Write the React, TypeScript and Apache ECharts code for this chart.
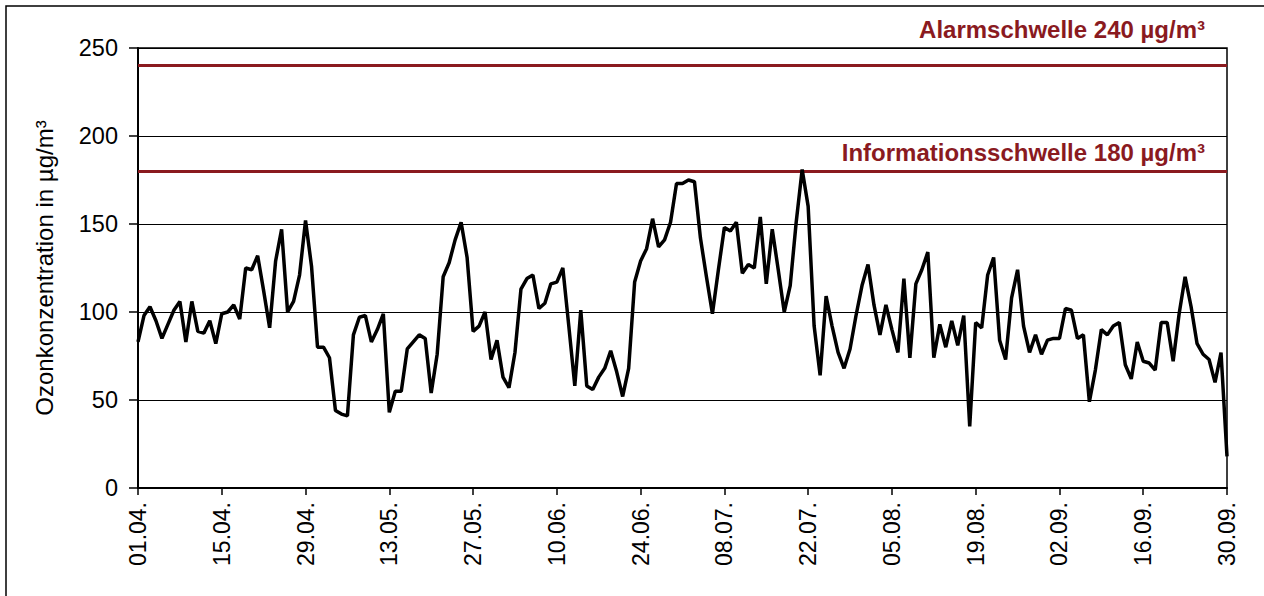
import React, { useEffect, useRef } from "react";
import * as echarts from "echarts";

// Daily 8h-max ozone values, 01.04. - 30.09. (183 days)
const ozone: number[] = [
  83, 98, 103, 95, 85, 93, 101, 106, 83, 106,
  89, 88, 95, 82, 99, 100, 104, 96, 125, 124,
  132, 112, 91, 129, 147, 100, 106, 121, 152, 126,
  80, 80, 74, 44, 42, 41, 87, 97, 98, 83,
  90, 99, 43, 55, 55, 79, 83, 87, 85, 54,
  76, 120, 128, 141, 151, 131, 89, 92, 100, 73,
  84, 63, 57, 77, 113, 119, 121, 102, 105, 116,
  117, 125, 92, 58, 101, 58, 56, 63, 68, 78,
  66, 52, 68, 117, 129, 136, 153, 137, 141, 151,
  173, 173, 175, 174, 142, 120, 99, 124, 148, 146,
  151, 122, 127, 125, 154, 116, 147, 124, 100, 115,
  151, 181, 160, 92, 64, 109, 92, 77, 68, 79,
  98, 115, 127, 104, 87, 104, 90, 77, 119, 74,
  116, 124, 134, 74, 93, 80, 95, 81, 98, 35,
  94, 91, 121, 131, 84, 73, 108, 124, 92, 77,
  87, 76, 84, 85, 85, 102, 101, 85, 87, 49,
  67, 90, 87, 92, 94, 70, 62, 83, 72, 71,
  67, 94, 94, 72, 99, 120, 103, 82, 76, 73,
  60, 77, 18,
];

const tickLabels: string[] = [
  "01.04.", "15.04.", "29.04.", "13.05.", "27.05.", "10.06.", "24.06.",
  "08.07.", "22.07.", "05.08.", "19.08.", "02.09.", "16.09.", "30.09.",
];

const thresholds: { value: number; label: string }[] = [
  { value: 240, label: "Alarmschwelle 240 µg/m³" },
  { value: 180, label: "Informationsschwelle 180 µg/m³" },
];

const yTitle = "Ozonkonzentration in µg/m³";

const FONT = "'Liberation Sans', Arial, sans-serif";
const DARK_RED = "#8A1A1F";

export default function App() {
  const ref = useRef<HTMLDivElement>(null);

  useEffect(() => {
    if (!ref.current) return;
    const chart = echarts.init(ref.current, undefined, { renderer: "svg" });
    const option: any = {
      animation: false,
      backgroundColor: "#fff",
      textStyle: { fontFamily: FONT },
      grid: { left: 138, right: 37, top: 48, bottom: 108, show: true, borderColor: "#000", borderWidth: 1.5 },
      xAxis: {
        type: "value",
        min: 0,
        max: ozone.length - 1,
        interval: 14,
        axisLine: { show: true, lineStyle: { color: "#000", width: 2 } },
        axisTick: { show: true, length: 7, lineStyle: { color: "#000", width: 1.5 } },
        splitLine: { show: false },
        axisLabel: {
          rotate: 90,
          margin: 14,
          fontSize: 23,
          color: "#000",
          fontFamily: FONT,
          formatter: (v: number) => tickLabels[Math.round(v / 14)] ?? "",
        },
      },
      yAxis: {
        type: "value",
        min: 0,
        max: 250,
        interval: 50,
        name: yTitle,
        nameLocation: "middle",
        nameGap: 82,
        nameTextStyle: { fontSize: 24, color: "#000", fontFamily: FONT },
        axisLine: { show: true, lineStyle: { color: "#000", width: 2 } },
        axisTick: { show: true, length: 9, lineStyle: { color: "#000", width: 1.5 } },
        splitLine: { show: true, lineStyle: { color: "#000", width: 1.2 } },
        axisLabel: { fontSize: 23.5, color: "#000", margin: 20, fontFamily: FONT },
      },
      series: [
        {
          type: "line",
          data: ozone.map((v, i) => [i, v]),
          showSymbol: false,
          symbol: "none",
          lineStyle: { color: "#000", width: 3.5 },
          z: 3,
          markLine: {
            silent: true,
            symbol: "none",
            label: { show: false },
            lineStyle: { color: DARK_RED, width: 3, type: "solid" },
            data: thresholds.map((t) => ({ yAxis: t.value })),
            z: 2,
          },
        },
      ],
    };
    chart.setOption(option);

    const xRight = chart.convertToPixel({ xAxisIndex: 0 }, ozone.length - 1) as number;
    const offsets = [36, 19];
    const graphics: any[] = [
      {
        type: "rect",
        shape: { x: 6, y: 6, width: 1400, height: 800 },
        style: { fill: "none", stroke: "#000", lineWidth: 1.5 },
        z: 0,
        silent: true,
      },
    ];
    thresholds.forEach((t, i) => {
      const y = chart.convertToPixel({ yAxisIndex: 0 }, t.value) as number;
      graphics.push({
        type: "text",
        x: xRight - 22,
        y: y - offsets[i],
        style: {
          text: t.label,
          fill: DARK_RED,
          font: `bold 24px ${FONT}`,
          textAlign: "right",
          textVerticalAlign: "middle",
        },
        z: 10,
      });
    });
    chart.setOption({ graphic: graphics });

    return () => chart.dispose();
  }, []);

  return (
    <div
      ref={ref}
      style={{ position: "fixed", left: 0, top: 0, width: 1264, height: 596 }}
    />
  );
}
